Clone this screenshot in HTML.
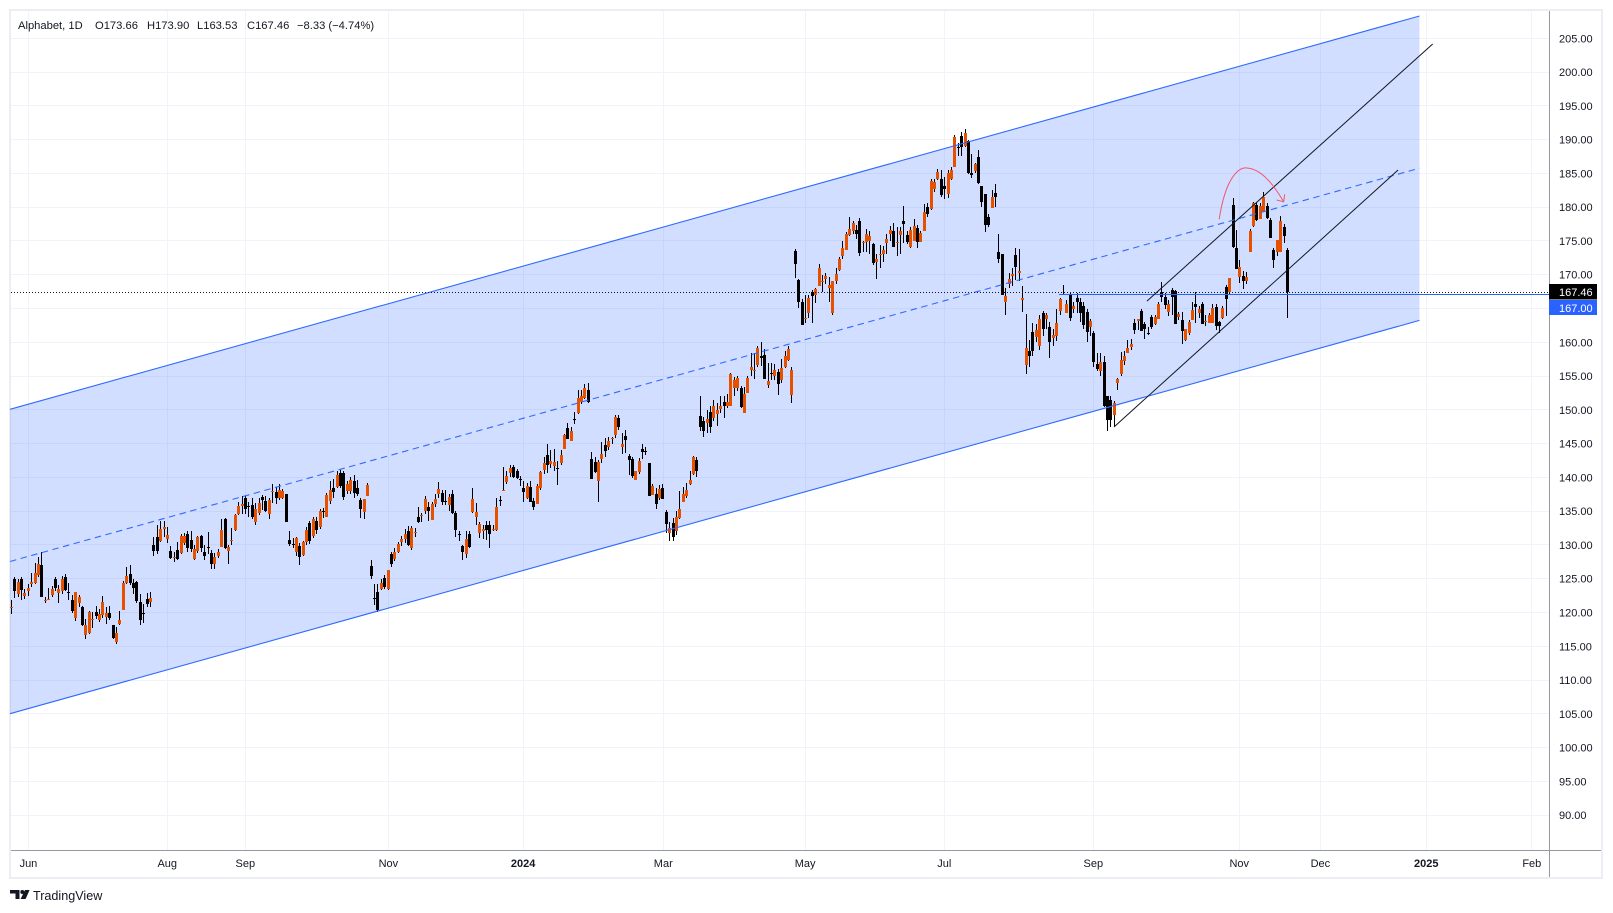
<!DOCTYPE html>
<html lang="en">
<head>
<meta charset="utf-8">
<title>Alphabet, 1D chart</title>
<style>
html,body{margin:0;padding:0;background:#fff;width:1613px;height:913px;overflow:hidden}
svg{display:block;font-family:"Liberation Sans",Arial,sans-serif}
text{fill:#131722;font-size:11px}
</style>
</head>
<body>
<svg id="chart" xmlns="http://www.w3.org/2000/svg" width="1613" height="913" viewBox="0 0 1613 913">
  <rect x="10" y="10" width="1592" height="868" fill="#fff" stroke="#eceef3" stroke-width="2"/>
  <g id="grid" shape-rendering="crispEdges"></g>
  <g id="channel"></g>
  <g id="candles" shape-rendering="crispEdges"></g>
  <g id="drawings"></g>
  <line x1="11" x2="1601" y1="850.5" y2="850.5" stroke="#9598a1" shape-rendering="crispEdges"/>
  <line x1="1549.5" x2="1549.5" y1="11" y2="877" stroke="#9598a1" shape-rendering="crispEdges"/>
  <g id="priceAxis"></g>
  <g id="timeAxis"></g>
  <g id="lastLabels"></g>
  <g style="font-size:11.2px">
    <text x="18" y="29" style="font-size:11.2px">Alphabet, 1D</text>
    <text x="95" y="29" style="font-size:11.2px">O173.66</text>
    <text x="147" y="29" style="font-size:11.2px">H173.90</text>
    <text x="197" y="29" style="font-size:11.2px">L163.53</text>
    <text x="247" y="29" style="font-size:11.2px">C167.46</text>
    <text x="297" y="29" style="font-size:11.2px">−8.33 (−4.74%)</text>
  </g>
  <g>
    <path fill="#131722" d="M10 890h9.5v9h-4v-5.5H10zM25 890h4.6l-4 9h-5z"/>
    <circle cx="22.3" cy="892" r="2" fill="#131722"/>
    <text x="33" y="900" style="font-size:12.6px">TradingView</text>
  </g>
</svg>
<script>
const opens = [
120.6,125,122.7,125,122.5,123.2,124.15,124.4,125.55,127,
121.7,122,122.6,124.9,122.9,123.2,125.25,123,121.85,119.25,
121.45,120.75,116.6,116.9,119.1,120,118.9,119.6,119.4,119.9,
118.15,115.7,118.3,120.4,124.3,125.7,124.4,124.45,121.5,119.9,
122,121.6,130,131.1,130.6,132.4,130.9,129.1,128.1,129.25,
128.85,130.3,131.6,130.7,127.9,129.1,131.3,129,129.7,128.8,
127.2,128.3,129.75,133.9,129.1,130.7,132.2,134.6,135.7,137,
135.7,135.9,133.45,134.8,137.15,136.5,134.6,137.8,137.9,137,
137,137.5,130.7,130.2,128.9,129.85,128.5,130.5,133.2,131.3,
133.5,132.6,135,134.2,136.55,138.4,138.6,140.6,140.6,138,
138,139.4,138.4,136.65,134.9,137.2,126.9,122.1,123.1,123.5,
125.05,123.5,128.6,127.9,129,130.45,130.85,132,129.5,131.8,
134.1,134.35,135,135.65,133.7,136,137.5,137.65,136.55,135.9,
137.5,134.8,131.65,129.85,128.7,131.6,134.85,134.2,131.8,132,
133,133,132.15,132.2,136.65,138,139.3,140.6,141.55,140.95,
139.75,138.5,137,138.6,136.5,136.1,138.4,141.1,143.3,142,
141.75,141.45,142.1,144.2,147.3,145.4,148.65,149.5,151.2,151.7,
153,142.7,142.3,139.4,142.7,144.8,144.55,145.75,146.3,148.75,
144.5,146.1,143.1,142.7,139.6,140.85,144.2,143.85,142.1,137.4,
137.6,137,138.5,134.9,131.8,133.25,132.1,134.05,136.4,137.25,
139,140.5,142.5,149.1,148.4,148.05,149.7,148.75,149.4,150.1,
151.1,150.5,150.5,153.2,153.3,153.3,149.5,152.55,155.9,155.8,
156.6,158,158.1,153.7,155.45,155.06,155.65,154.4,156.3,157.4,
152.2,173.5,169.2,165.9,163.45,164.4,167.4,167,168.4,168.95,
169.4,168,164.4,169.1,170.7,172.8,173.6,175.85,176.5,176.6,
178,174.75,174.85,175,174.55,171.9,172.95,173.1,174.65,176,
176.5,174.75,175.9,177.9,175.85,174.1,175,176.9,174.85,176.4,
180,179.7,182.75,184.2,184.2,183.1,182,184.2,185.9,188.95,
190.5,189.05,189.8,185.1,185.3,187.5,183.1,182,178.5,179.9,
182.1,173.4,173,166,168.6,169.8,172.9,170.2,166.3,156.6,
158.7,161.5,160.8,159.45,164.3,163.45,162.3,160.7,160.9,164.6,
167,164.4,167.15,164.9,166.6,166,165.3,164.5,162.2,161.4,
156.8,155.75,157.1,152,151.5,149.2,153.9,155.3,157.2,158.4,
159.3,162.9,163.2,164.6,162.7,161.35,163.75,162.7,163.5,167.4,
166.75,164.5,167.7,167.6,163.8,163.3,160.4,161.3,163.3,165.7,
164.4,165.7,163,162.9,162.8,165.2,163,163.6,168.2,167.4,
180.3,173.9,169.6,169.8,169.1,173.4,177.2,180.3,178.25,179.3,
180.2,178.1,173.66,173.3,173.4,177,173.66];
const highs = [
121.85,125.2,124.9,125.2,123.5,124.2,125.9,127.3,128.2,129,
122.3,123.6,123.9,125.2,124,125.4,125.7,124.3,122.6,123.1,
122.6,120.9,119,120.2,120.1,121,120.5,122.4,120.8,120.9,
118.2,117.9,120.2,124.6,126.7,127,125,124.7,122.7,121.3,
122.9,123,131.1,133,133.5,133.5,132.6,129.9,129,130.4,
131.6,131.7,132,132,130,131.3,131.5,130,131.9,129.3,
128.8,129.4,133.8,134,130,132.5,134.6,136.4,137.2,137.3,
136.3,137,136.2,136.9,137.4,137.2,137,139,138.6,139,
138.3,137.6,132,131,131.1,130.3,130.6,132.7,133.5,134.1,
134.1,135.3,135.5,137.7,139.5,139.7,141,141.1,141,139.5,
140,140.4,139.6,137,136.8,139.1,127.7,124.2,124.2,125,
125.5,126.3,129,129.6,130.4,131.3,132.3,132.8,132.8,132.5,
135.6,134.7,137.2,136.3,136.4,137.5,139.3,138.1,138.2,137.5,
138.1,135,132,130,132,132,138.4,136.2,133.4,133,
133.6,133.5,133,136.9,137.25,141.6,141,141.9,141.9,141.2,
140.2,139.5,139.2,139.4,137,139,141,143,145,144,
144.2,142.4,144.1,146.4,148,147.5,149.7,153,153,153.8,
154,143.7,143,142.5,145.3,145.8,146,146,149.3,149.2,
146.5,147,143.5,143,141,142.9,144.9,144.5,142.2,139,
138.5,138.8,139,135.2,133.4,134,135,138,138.6,139.2,
141,143.2,143,152,149,150,150.5,151.4,151,152,
152,152.3,155.4,154.8,155,153.5,153.4,155,158.4,158.4,
159.4,160,159,157,157,156.8,156,157.5,158.7,159.5,
156.4,173.8,169.4,166.4,167,167,167.8,168,171.6,170,
170.3,169.6,169.1,171,172.6,175,176.3,178.5,178,177.4,
178.4,175,176.8,176.5,174.7,173,174.4,174.3,176,177.2,
177.7,177.1,177,180.1,176.5,177,178.2,177.4,176.5,180.5,
180.6,184.2,184.2,185.7,185.5,184.5,185.5,186,190.7,189.5,
191.1,191.6,190,187.9,186.6,188.4,183.1,182,179,182.5,
183.4,176,173.1,168,170.2,171,174,173.8,168.3,164.2,
160.3,162.8,162.7,164,164.6,164.4,163,162,164.9,166.6,
168.5,166.3,167.3,166,167.3,166.5,166,165,163.4,161.6,
158.4,158.4,158,152,152,151.3,154.7,158.6,158.7,160.3,
160.5,163.5,163.5,165,163,162.3,164,164,166,168.9,
167.3,166.3,168.1,167.7,164.5,164.5,161.9,163.3,166,167.5,
165.3,165.9,164,164.3,165.6,165.6,163.2,165.3,168.5,169.5,
181.3,176.6,172.2,170.5,170.45,176.8,180.8,180.8,180.6,182.2,
180.6,178.4,174,175.1,178.7,177.5,173.9];
const lows = [
119.8,122.2,122.3,121.9,122,122.4,123.7,124.2,125.3,122.3,
121.4,121.8,122.3,123.2,121.4,122.7,123.2,121.9,119.9,118.8,
120.8,118,116,116.8,117.7,119,118.6,119.2,118.3,118.9,
116,115.3,118.2,120.3,124.2,124,122.8,121.4,118.2,118.4,
120.8,120.8,128.3,128.7,130.5,131.2,130.3,127.9,127.4,127.7,
128.7,130,129,128.9,127.8,128.8,129,127.8,128.7,126.4,
126.4,128.1,129.7,129.4,127.2,130,132,134.5,134.6,134.6,
134.1,133.9,132.9,134.5,135.2,134.9,133.9,136.2,136,136.7,
136.8,133.4,129.8,129.6,128.4,127.1,128.4,130,130.2,131,
131.6,132.4,134,134.1,136,137,138.4,138.4,136.7,137.5,
137.5,137,137.3,134,133.9,137.2,125,121.1,120.1,123.4,
123.5,123.4,126.8,127.6,128.8,129.8,130.3,129.9,129.3,131.2,
133.2,133.4,134.6,133.5,133.7,135.6,137,135.9,135.9,135,
134.6,131.2,130.6,127.8,128,129.5,134.7,132.9,131,130.9,
130.8,129.6,132,132,135.7,138,139,140,139.9,139.7,
138.7,136.4,136.8,136.3,135.1,136.1,138.2,140.5,140.6,141.4,
141,138.8,141.8,144.2,145.7,145.4,147.9,149.4,150.9,151.6,
151,139.8,140.6,136.4,142.2,143,144,145,145.8,147,
143.4,143.6,140.3,139.9,139.6,140.5,142.7,143.3,137.2,137.4,
135.3,136.6,136.8,131.8,130.6,130.6,131.5,133.9,136.4,137,
138.9,140.4,140,146.8,146,146.6,146.6,148.4,147.6,149.6,
148.8,150.3,150.5,152,152.8,150.3,149.5,152.5,155.05,154.5,
156.4,156.5,154.5,153.2,154.4,154.4,152.2,154,156.2,157.2,
151,169.5,165.1,162.5,162.8,163.6,162.9,165.8,168.4,167.5,
168.7,166,164.1,168.7,170.5,172.4,173.6,175.7,176,175.3,
172.8,173.4,173.4,173,171.5,169.3,171,171.9,173,175,
174.1,172.7,173,174.7,174.5,174,175,174,174.8,176.4,
178.5,179.6,182.3,184,181.5,181.2,181.4,184,185.9,187.6,
187.6,188.9,184.9,184.3,185,183.4,180,176.3,177,179.9,
180,171.7,167,164,168,168.4,169.2,169,164.5,155.3,
156.4,158,160,158.9,161,162,157.6,159.5,160.2,164,
167,164.4,163.2,164.4,164.4,163,162,160,161,156.3,
155.7,155,150.4,146.9,147.5,147.6,153,155,156.6,158.4,
158.8,161.2,161.8,161.6,160.5,161.1,162,162.6,163.5,166,
165,163.9,164,162.7,163.3,159.7,160.2,161.1,163.3,162.8,
163.6,162.7,162.4,162.8,162.8,161.8,161.3,163.5,163.9,167,
174,170.85,168.8,167.9,168.6,173.4,177,178,178.25,179.3,
178.3,175.4,171,172.8,173.4,174.75,163.53];
const closes = [
120.8,123.2,124.5,123.3,122.9,123.6,124.45,125.8,127.2,122.35,
121.9,122,123.5,123.55,123.5,124.9,123.3,122.95,120.2,123,
122.25,118.2,118.1,120.1,119.1,119.5,119.8,121.5,119.9,119.25,
116.2,116.9,118.9,124.3,125.4,124.3,123.6,121.75,118.9,119.85,
121.25,122.2,129.15,129.15,132.4,132.6,131.5,128.1,128.2,127.9,
131.3,131.3,129.5,129.4,129.4,131.1,129.6,128.4,129.6,127.2,
128.2,129,132.2,129.5,129.65,130.8,134.4,135.8,136.1,135.3,
135.65,134.2,135.3,136.15,136.65,135,136.65,138,137,138.1,
138,133.45,130.1,130.1,131,128.25,130.5,132.2,130.6,133.9,
132.2,135,134.9,137.4,138.2,137.9,140.35,138.7,137.1,139,
139.6,137.7,137.5,135.3,136.75,138.8,125.45,122.05,120.4,124.4,
123.7,126.3,127.2,129,130.1,130.85,131.6,130,132.5,131.95,
133.4,134.45,136.8,135.05,136.1,136.8,138.25,136.4,136.45,137.1,
134.8,132.2,131.55,128.95,130.85,129.75,136.8,134.85,133.15,132.3,
132.2,131.6,132.3,135.6,136.55,138.2,140.25,141.45,140.1,139.9,
139.65,137.8,138.75,136.3,135.55,138.75,140.85,142.15,141.8,142.4,
142.3,141.35,143.3,146.3,145.7,146.9,148.55,151.7,152.05,153.3,
151.1,139.8,140.8,142.3,143.45,143.9,145.4,145.85,149,147.4,
145,145.5,142.5,140.2,141,142.4,143.8,143.75,137.3,138.7,
136.1,138.3,136.8,133.1,132.5,131.2,134.1,135.3,137.5,138.2,
139.6,143,141,147.4,146.8,148.65,147.4,150.6,150,150.6,
150.6,151.2,155.3,154.4,154.7,150.4,152.35,154.7,156.4,155.9,
159.2,157.6,154.6,154.3,155.35,155.9,153.8,156.15,158,159,
155.9,171.65,165.9,162.5,163.55,166.5,166.9,167.85,171,169.05,
169.8,168.5,169.1,170.1,172.3,174,176,176.7,177.6,176,
173.2,174.85,176.1,175.75,171.7,172.35,173.05,173.7,175.3,176.6,
174.15,174.85,176.5,177.5,174.85,176.6,177.2,174.85,176.2,179.3,
179,183.9,183.75,185.2,181.8,182.75,185,185.5,190.35,188.85,
188.9,191.05,185.1,184.8,186.4,183.6,180.8,177.35,177.35,181.45,
181.45,172.3,167,166.85,169.4,170.1,171.1,170.55,166.5,159.15,
158,158.7,161.8,163.45,161.9,164,160,161.1,162.8,166.4,
167.2,165.7,163.55,165.4,166,164.4,162.6,161.5,163.15,157.1,
156.1,157.1,150.6,148.5,148.5,151,154.6,157.4,157.9,159.2,
159.8,161.8,163.4,161.6,162,161.25,162.3,163.75,165.7,166.75,
165.5,165.7,166.75,162.7,164.2,161.6,161.9,163.06,164.8,165.2,
165,162.7,163.1,164,165.1,162.4,162.4,165.1,166.4,169.5,
174.05,170.85,171.2,169,169.66,176.4,180.6,178.1,180.2,181.55,
178.45,175.4,172.2,175.1,178,175.7,167.46];

const priceTicks = [205,200,195,190,185,180,175,170,165,160,155,150,145,140,135,130,125,120,115,110,105,100,95,90];
const timeLabels = ['Jun','Aug','Sep','Nov','2024','Mar','May','Jul','Sep','Nov','Dec','2025','Feb'];
const timeLabelBars = [5.05,45.95,68.95,111.1,150.8,192.1,233.9,274.9,318.8,361.8,385.7,416.9,448];
const boldTimeLabels = ['2024','2025'];
const channelBars = [-0.38,414.9];
const channelUpper = [150.08,208.3];
const channelLower = [105.02,163.24];
const channelMiddle = [127.55,185.77];
const lowerTrendBars = [324.9,408.6];
const lowerTrendPrices = [147.46,185.5];
const upperTrendBars = [334.6,418.8];
const upperTrendPrices = [166.1,204.16];
const levelBar = [308.7];
const levelPrice = [167];
const curveBars = [355.9,357.9,362,364.1,368.5,372.2,374.9];
const curvePrices = [178.2,184.8,185.95,185.8,185.65,183.1,180.8];
const arrowBars = [375.2,374.9,372.8];
const arrowPrices = [181.9,180.8,181.06];

const PLOT_LEFT = 11, PLOT_RIGHT = 1549, PLOT_TOP = 11, PLOT_BOTTOM = 850;
const BAR_STEP = 3.394, BAR_ORIGIN = 11.3;
const PRICE_SCALE = 6.755, PRICE_REF = 205, PRICE_REF_Y = 38.3;
const NS = 'http://www.w3.org/2000/svg';
function xOfBar(b){return BAR_ORIGIN + b * BAR_STEP;}
function yOfPrice(p){return PRICE_REF_Y + (PRICE_REF - p) * PRICE_SCALE;}
function svgEl(tag, attrs, parent){
  const e = document.createElementNS(NS, tag);
  for (const k in attrs) e.setAttribute(k, attrs[k]);
  parent.appendChild(e);
  return e;
}

const gridG = document.getElementById('grid');
priceTicks.forEach(function(p){
  const el = svgEl('rect',{x:PLOT_LEFT,y:Math.floor(yOfPrice(p)),width:PLOT_RIGHT-PLOT_LEFT,height:1,fill:'#f0f3fa'},gridG);
  
  
});
timeLabelBars.forEach(function(b){
  const el = svgEl('rect',{x:Math.floor(xOfBar(b)),y:PLOT_TOP,width:1,height:PLOT_BOTTOM-PLOT_TOP,fill:'#f0f3fa'},gridG);
  
  
});

const chG = document.getElementById('channel');
const cx0 = xOfBar(channelBars[0]), cx1 = xOfBar(channelBars[1]);
const band = svgEl('polygon',{points:[cx0,yOfPrice(channelUpper[0]),cx1,yOfPrice(channelUpper[1]),cx1,yOfPrice(channelLower[1]),cx0,yOfPrice(channelLower[0])].join(' '),fill:'#2962ff','fill-opacity':'0.21'},chG);



const candleG = document.getElementById('candles');
opens.forEach(function(o,i){
  const c = closes[i], h = highs[i], l = lows[i];
  const cx = Math.floor(xOfBar(i));
  const g = svgEl('g',{},candleG);
  
  
  const wickTop = Math.round(yOfPrice(h)), wickBot = Math.round(yOfPrice(l));
  const wick = svgEl('rect',{x:cx,y:wickTop,width:1,height:Math.max(1,wickBot-wickTop),fill:'#000'},g);
  
  
  const bt = Math.round(yOfPrice(Math.max(o,c))), bb = Math.round(yOfPrice(Math.min(o,c)));
  const body = svgEl('rect',{x:cx-1,y:bt,width:3,height:Math.max(1,bb-bt),fill:c>=o?'#e65100':'#000'},g);
  
  
});

const drG = document.getElementById('drawings');
function channelLine(prices,name,dash){
  const el = svgEl('line',{x1:cx0,y1:yOfPrice(prices[0]),x2:cx1,y2:yOfPrice(prices[1]),stroke:'#2f6bff','stroke-width':'1.1'},drG);
  if (dash) el.setAttribute('stroke-dasharray', dash);
  
  
}
channelLine(channelUpper,'channel-upper-line');
channelLine(channelLower,'channel-lower-line');
channelLine(channelMiddle,'channel-middle-line','6.5 4.5');

const lastY = yOfPrice(closes[closes.length-1]);
const dotted = svgEl('line',{x1:PLOT_LEFT,x2:PLOT_RIGHT,y1:Math.round(lastY)+0.5,y2:Math.round(lastY)+0.5,stroke:'#131722','stroke-dasharray':'1 2','shape-rendering':'crispEdges'},drG);



const levelY = yOfPrice(levelPrice[0]);
const level = svgEl('line',{x1:xOfBar(levelBar[0]),x2:PLOT_RIGHT,y1:Math.floor(levelY)+0.5,y2:Math.floor(levelY)+0.5,stroke:'#2962ff','shape-rendering':'crispEdges'},drG);



const lowTrend = svgEl('line',{x1:xOfBar(lowerTrendBars[0]),y1:yOfPrice(lowerTrendPrices[0]),x2:xOfBar(lowerTrendBars[1]),y2:yOfPrice(lowerTrendPrices[1]),stroke:'#131722','stroke-width':'1'},drG);


const upTrend = svgEl('line',{x1:xOfBar(upperTrendBars[0]),y1:yOfPrice(upperTrendPrices[0]),x2:xOfBar(upperTrendBars[1]),y2:yOfPrice(upperTrendPrices[1]),stroke:'#131722','stroke-width':'1'},drG);



function pt(b,p){return xOfBar(b).toFixed(1)+' '+yOfPrice(p).toFixed(1);}
const curve = svgEl('path',{d:'M'+pt(curveBars[0],curvePrices[0])+'C'+pt(curveBars[1],curvePrices[1])+' '+pt(curveBars[2],curvePrices[2])+' '+pt(curveBars[3],curvePrices[3])+'C'+pt(curveBars[4],curvePrices[4])+' '+pt(curveBars[5],curvePrices[5])+' '+pt(curveBars[6],curvePrices[6]),fill:'none',stroke:'#f2556c','stroke-width':'1'},drG);


const head = svgEl('polyline',{points:arrowBars.map(function(b,i){return pt(b,arrowPrices[i]);}).join(' '),fill:'none',stroke:'#f2556c','stroke-width':'1'},drG);



const paG = document.getElementById('priceAxis');
priceTicks.forEach(function(p){
  const t = svgEl('text',{x:1559,y:yOfPrice(p)+4},paG);
  t.textContent = p.toFixed(2);
  
  
});

const taG = document.getElementById('timeAxis');
timeLabels.forEach(function(lab,i){
  const t = svgEl('text',{x:xOfBar(timeLabelBars[i]),y:867,'text-anchor':'middle'},taG);
  t.textContent = lab;
  if (boldTimeLabels.indexOf(lab) >= 0) t.setAttribute('font-weight','bold');
  
  
});

const llG = document.getElementById('lastLabels');
const closeBox = svgEl('rect',{x:1549,y:Math.round(lastY-7.7),width:48,height:15.5,fill:'#000','shape-rendering':'crispEdges'},llG);


const closeTxt = svgEl('text',{x:1559,y:Math.round(lastY)+4,style:'fill:#fff;font-size:11px'},llG);
closeTxt.textContent = closes[closes.length-1].toFixed(2);


const levelBox = svgEl('rect',{x:1549,y:Math.round(lastY-7.7)+16,width:48,height:15,fill:'#2962ff','shape-rendering':'crispEdges'},llG);


const levelTxt = svgEl('text',{x:1559,y:Math.round(lastY)+20,style:'fill:#fff;font-size:11px'},llG);
levelTxt.textContent = levelPrice[0].toFixed(2);


</script>
</body>
</html>
